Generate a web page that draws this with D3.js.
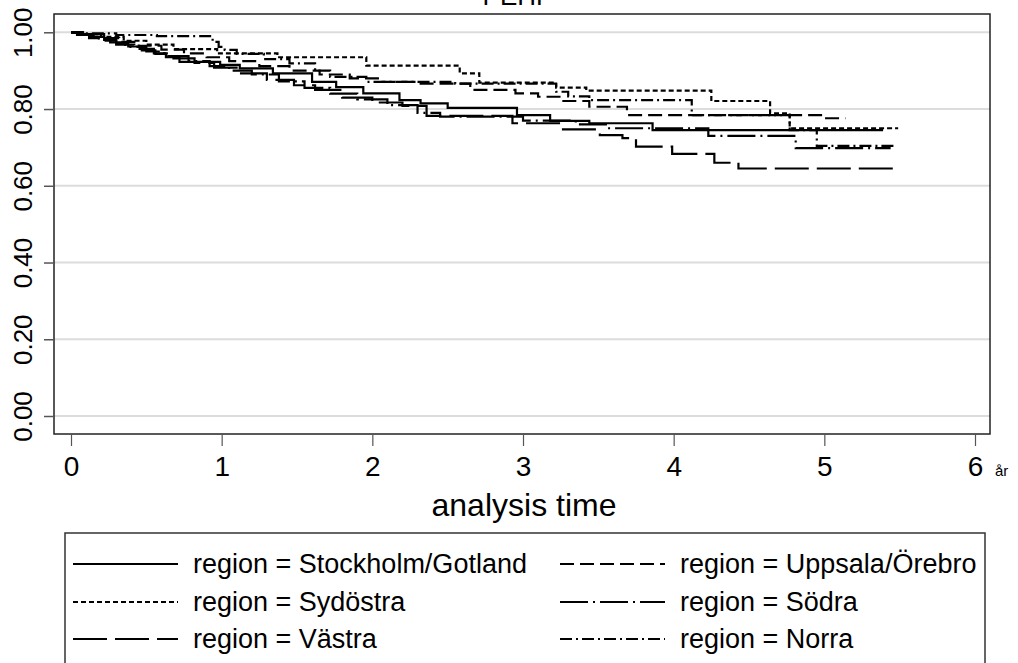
<!DOCTYPE html>
<html>
<head>
<meta charset="utf-8">
<script src="https://cdn.jsdelivr.net/npm/d3@7"></script>
<style>
  html, body { margin: 0; padding: 0; background: #fff; }
  svg { display: block; font-family: "Liberation Sans", Arial, sans-serif; }
</style>
</head>
<body>
<div id="chart"></div>
<script>
// Kaplan-Meier survival estimates by region, [years, survival]
const stockholm = [[0, 1], [0.05, 0.995], [0.13, 0.988], [0.22, 0.98], [0.3, 0.972], [0.38, 0.963],
  [0.47, 0.953], [0.56, 0.944], [0.63, 0.935], [0.72, 0.923], [0.99, 0.915], [1.12, 0.906],
  [1.34, 0.893], [1.6, 0.871], [1.76, 0.857], [1.94, 0.841], [2.18, 0.823], [2.32, 0.815],
  [2.5, 0.803], [2.96, 0.784], [3.18, 0.769], [3.44, 0.763], [3.86, 0.745], [5.39, 0.745]];
const uppsala = [[0, 1], [0.08, 0.995], [0.2, 0.985], [0.32, 0.975], [0.45, 0.965], [0.6, 0.955],
  [0.75, 0.945], [0.9, 0.935], [1.05, 0.925], [1.25, 0.912], [1.45, 0.9], [1.65, 0.89],
  [1.85, 0.88], [2.05, 0.871], [2.3, 0.866], [2.65, 0.85], [2.95, 0.841], [3.1, 0.832],
  [3.25, 0.821], [3.44, 0.806], [3.69, 0.784], [5.0, 0.776], [5.14, 0.776]];
const sydostra = [[0, 1], [0.1, 0.995], [0.22, 0.988], [0.35, 0.978], [0.5, 0.968], [0.68, 0.956],
  [0.97, 0.945], [1.37, 0.935], [1.96, 0.913], [2.58, 0.893], [2.71, 0.869], [3.22, 0.856],
  [3.42, 0.848], [4.25, 0.821], [4.64, 0.789], [4.77, 0.75], [5.49, 0.75]];
const sodra = [[0, 1], [0.06, 0.993], [0.15, 0.984], [0.26, 0.974], [0.36, 0.962], [0.5, 0.95],
  [0.62, 0.938], [0.78, 0.925], [0.92, 0.912], [1.05, 0.9], [1.2, 0.89], [1.38, 0.872],
  [1.55, 0.855], [1.72, 0.84], [1.9, 0.825], [2.1, 0.81], [2.3, 0.79], [2.45, 0.78],
  [3.0, 0.77], [3.35, 0.76], [3.55, 0.75], [4.23, 0.73], [4.81, 0.698], [5.44, 0.698]];
const vastra = [[0, 1], [0.04, 0.993], [0.12, 0.985], [0.2, 0.978], [0.3, 0.968], [0.42, 0.957],
  [0.55, 0.945], [0.68, 0.932], [0.82, 0.92], [0.95, 0.908], [1.12, 0.893], [1.3, 0.876],
  [1.48, 0.862], [1.62, 0.85], [1.8, 0.83], [2.0, 0.817], [2.2, 0.808], [2.36, 0.782],
  [2.93, 0.763], [3.25, 0.747], [3.51, 0.732], [3.66, 0.724], [3.75, 0.702], [3.99, 0.683],
  [4.27, 0.66], [4.43, 0.645], [5.47, 0.645]];
const norra = [[0, 1], [0.08, 0.997], [0.3, 0.993], [0.57, 0.99], [0.94, 0.975], [0.98, 0.962],
  [1.02, 0.954], [1.1, 0.944], [1.28, 0.93], [1.45, 0.919], [1.62, 0.9], [1.72, 0.884],
  [1.96, 0.871], [2.55, 0.866], [3.22, 0.845], [3.3, 0.833], [3.44, 0.823], [4.12, 0.784],
  [4.77, 0.745], [4.95, 0.704], [5.47, 0.704]];

const regionNames = ['Stockholm/Gotland', 'Uppsala/Örebro', 'Sydöstra', 'Södra', 'Västra', 'Norra'];
const regionData = [stockholm, uppsala, sydostra, sodra, vastra, norra];
const dashes = [null, '14,6', '5,3', '28,5,2,5', '34,8', '12,4,2,4'];

const yTicks = [0, 0.2, 0.4, 0.6, 0.8, 1.0];
const xTicks = [0, 1, 2, 3, 4, 5, 6];

const width = 1018, height = 663;
const frame = { left: 54, top: 14, right: 990, bottom: 434 };

const svg = d3.select('#chart').append('svg')
  .attr('width', width)
  .attr('height', height);

const x = d3.scaleLinear().domain([0, 6]).range([71, 975]);
const y = d3.scaleLinear().domain([0, 1]).range([416, 32.3]);

// title, mostly above the page edge
svg.append('text')
  .attr('x', 518).attr('y', 5)
  .attr('text-anchor', 'middle')
  .attr('font-size', 26)
  .text('PEHP');

// horizontal grid
svg.append('g').selectAll('line')
  .data(yTicks)
  .join('line')
  .attr('x1', frame.left).attr('x2', frame.right)
  .attr('y1', d => y(d)).attr('y2', d => y(d))
  .attr('stroke', '#dcdcdc')
  .attr('stroke-width', 2);

// plot frame
svg.append('rect')
  .attr('x', frame.left).attr('y', frame.top)
  .attr('width', frame.right - frame.left)
  .attr('height', frame.bottom - frame.top)
  .attr('fill', 'none')
  .attr('stroke', '#222')
  .attr('stroke-width', 1.5);

// y axis
const yAxis = svg.append('g')
  .attr('transform', `translate(${frame.left},0)`)
  .call(d3.axisLeft(y).tickValues(yTicks).tickSize(10).tickFormat(d3.format('.2f')));
yAxis.select('.domain').remove();
yAxis.selectAll('.tick line').attr('stroke', '#555').attr('stroke-width', 1.5);
yAxis.selectAll('.tick text')
  .attr('font-size', 26)
  .attr('font-family', '"Liberation Sans", Arial, sans-serif')
  .attr('fill', '#000')
  .attr('x', 0).attr('dy', 0)
  .attr('text-anchor', 'middle')
  .attr('transform', 'translate(-22,0) rotate(-90)');

// x axis
const xAxis = svg.append('g')
  .attr('transform', `translate(0,${frame.bottom})`)
  .call(d3.axisBottom(x).tickValues(xTicks).tickSize(12).tickPadding(10).tickFormat(d3.format('d')));
xAxis.select('.domain').remove();
xAxis.selectAll('.tick line').attr('stroke', '#555').attr('stroke-width', 1.2);
xAxis.selectAll('.tick text')
  .attr('font-size', 28)
  .attr('font-family', '"Liberation Sans", Arial, sans-serif')
  .attr('fill', '#000');

svg.append('text')
  .attr('x', 995).attr('y', 476)
  .attr('font-size', 15)
  .text('år');

svg.append('text')
  .attr('x', 524).attr('y', 516)
  .attr('text-anchor', 'middle')
  .attr('font-size', 32)
  .text('analysis time');

// survival curves
const line = d3.line()
  .x(d => x(d[0]))
  .y(d => y(d[1]))
  .curve(d3.curveStepAfter);

svg.append('g').selectAll('path')
  .data(regionData)
  .join('path')
  .attr('d', d => line(d))
  .attr('fill', 'none')
  .attr('stroke', '#000')
  .attr('stroke-width', 2.2)
  .attr('stroke-dasharray', (d, i) => dashes[i]);

// legend
svg.append('rect')
  .attr('x', 65).attr('y', 533)
  .attr('width', 920).attr('height', 160)
  .attr('fill', 'none')
  .attr('stroke', '#333')
  .attr('stroke-width', 1.5);

const legendRows = [564, 602, 639];
const legendCols = [73, 560];
const legend = svg.append('g').selectAll('g')
  .data(regionNames)
  .join('g')
  .attr('transform', (d, i) => `translate(${legendCols[i % 2]},${legendRows[Math.floor(i / 2)]})`);

legend.append('line')
  .attr('x1', 0).attr('x2', 105)
  .attr('stroke', '#000')
  .attr('stroke-width', 2)
  .attr('stroke-dasharray', (d, i) => dashes[i]);

legend.append('text')
  .attr('x', 120).attr('dy', '0.35em')
  .attr('font-size', 27)
  .text(d => `region = ${d}`);
</script>
</body>
</html>
